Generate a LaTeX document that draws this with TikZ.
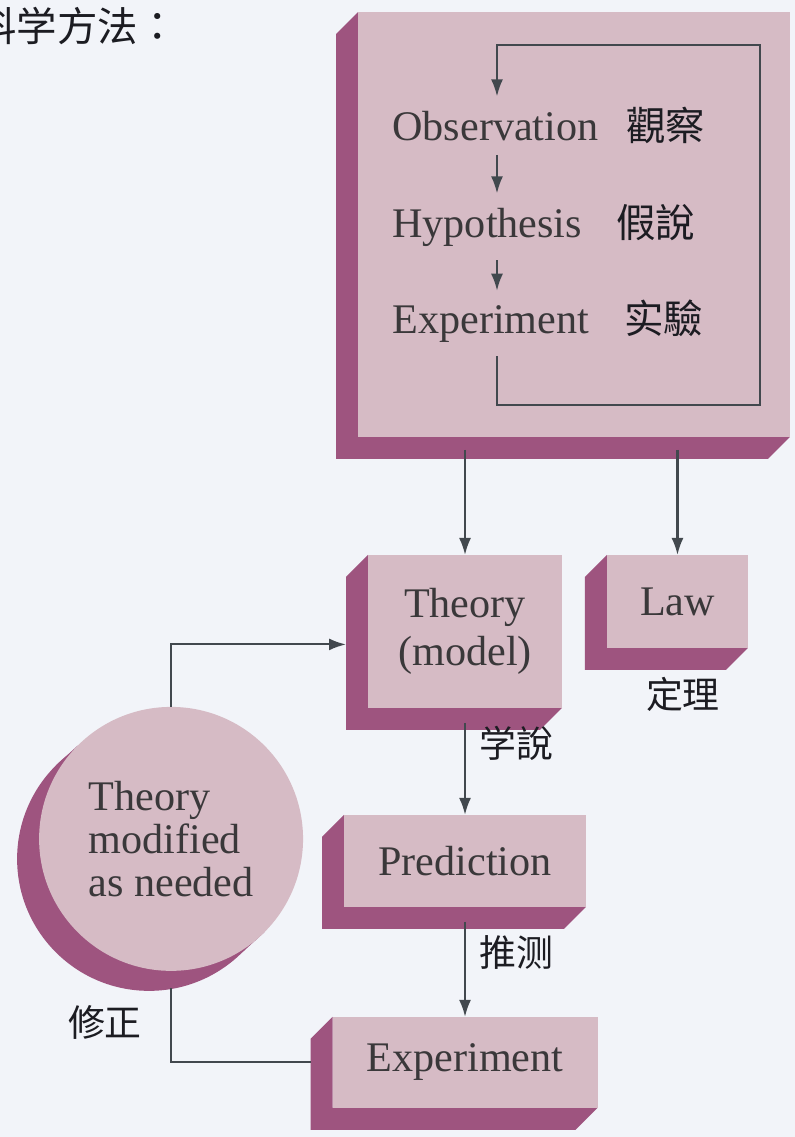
\documentclass[tikz,border=0pt]{standalone}
\usepackage{fontspec}
\setmainfont{Liberation Serif}
\newfontfamily\handzh{Noto Sans CJK TC}
\usetikzlibrary{positioning, arrows.meta, calc}

\definecolor{paper}{RGB}{242,244,249}
\definecolor{face}{RGB}{214,187,197}
\definecolor{side}{RGB}{158,84,127}
\definecolor{ink}{RGB}{66,72,78}
\definecolor{print}{RGB}{58,56,58}
\definecolor{pen}{RGB}{28,28,34}

\pgfdeclarelayer{bottom}
\pgfdeclarelayer{sides}
\pgfsetlayers{bottom,sides,main}

% side of a box, seen down and to the left
\newcommand{\boxside}[1]{%
  \begin{pgfonlayer}{sides}
    \fill[side] (#1.north west) -- ++(-22,22) |- ($(#1.south east)+(-22,22)$)
      -- (#1.south east) -- (#1.south west) -- cycle;
  \end{pgfonlayer}}
% side of the disc
\newcommand{\discside}[1]{%
  \begin{pgfonlayer}{sides}
    \fill[side] ($(#1.center)+(-22,20)$) circle[radius=2.64cm];
    \fill[side] (#1.north west) -- ++(-22,20) -- ($(#1.south east)+(-22,20)$)
      -- (#1.south east) -- cycle;
  \end{pgfonlayer}}

\begin{document}
\begin{tikzpicture}[
    x=0.02cm, y=-0.02cm,
    box/.style={rectangle, fill=face, inner sep=0pt, outer sep=0pt, text=print,
        align=center, font=\fontsize{24}{27.5}\selectfont},
    disc/.style={circle, fill=face, minimum size=5.28cm, inner sep=0pt, outer sep=0pt,
        text=print, align=left, font=\fontsize{24}{24.5}\selectfont},
    stage/.style={anchor=base west, inner sep=0.28cm, text=print, font=\fontsize{24}{24}\selectfont},
    hand/.style={text=pen, font=\handzh\fontsize{21}{21}\selectfont},
    arrow/.style={-{Latex[length=0.34cm, width=0.24cm]}, draw=ink, line width=1.2pt},
    wire/.style={draw=ink, line width=1.2pt},
]
\useasboundingbox (0,0) rectangle (795,1137);
\begin{pgfonlayer}{bottom}
    \fill[paper] (0,0) rectangle (795,1137);
\end{pgfonlayer}

%% NODES
    % title
    \node[hand, anchor=west, font=\handzh\fontsize{23}{23}\selectfont] (title) at (-30,26) {科学方法：};

    % method loop
    \node[box, minimum width=8.64cm, minimum height=8.5cm] (main) at (574,224.5) {};
    \node[stage] (obs) at (378,140) {Observation};
    \node[stage] (hyp) at (378,237) {Hypothesis};
    \node[stage] (expa) at (378,333) {Experiment};
    \node[hand, anchor=base west, font=\handzh\fontsize{22.5}{22.5}\selectfont] (obszh) at (620,140) {觀察};
    \node[hand, anchor=base west, font=\handzh\fontsize{22.5}{22.5}\selectfont] (hypzh) at (610,237) {假說};
    \node[hand, anchor=base west, font=\handzh\fontsize{22.5}{22.5}\selectfont] (expazh) at (618,333) {实驗};
    \coordinate (lx) at (497,0);
    \coordinate (loopbr) at (760,405);
    \coordinate (looptr) at (760,45);

    % results
    \node[box, minimum width=3.88cm, minimum height=3.06cm, below=2.36cm of main, xshift=-2.18cm] (theory) {Theory\\(model)};
    \node[box, minimum width=2.82cm, minimum height=1.86cm, below=2.36cm of main, xshift=2.07cm] (law) {Law};
    \node[hand, below=0.46cm of law, xshift=0.11cm] (lawzh) {定理};

    % testing
    \node[box, minimum width=4.84cm, minimum height=1.84cm, below=2.14cm of theory] (prediction) {Prediction};
    \node[box, minimum width=5.3cm, minimum height=1.82cm, below=2.2cm of prediction] (experiment) {Experiment};
    \node[disc, left=0.82cm of prediction, yshift=0.44cm] (circ) {Theory\\modified\\as needed};
    \node[hand] (fixzh) at (105,1022) {修正};

    \boxside{main}
    \boxside{theory}
    \boxside{law}
    \boxside{prediction}
    \boxside{experiment}
    \discside{circ}

%% CONNECTIONS
    % loop inside the box
    \draw[arrow] (obs.south -| lx) -- (hyp.north -| lx);
    \draw[arrow] (hyp.south -| lx) -- (expa.north -| lx);
    \draw[arrow] (expa.south -| lx) |- (loopbr) -- (looptr) -| (obs.north -| lx);

    % box -> theory, law
    \draw[arrow] ($(main.south -| theory.north)+(0,13)$) -- (theory.north);
    \draw[arrow] ($(main.south -| law.north)+(0,13)$) -- (law.north);

    % theory -> prediction -> experiment
    \draw[arrow] ($(theory.south)+(0,15)$) -- node[hand, pos=0.22, right=0.15cm] {学說} (prediction.north);
    \draw[arrow] ($(prediction.south)+(0,15)$) -- node[hand, pos=0.32, right=0.15cm] {推测} (experiment.north);

    % back round the disc
    \draw[wire] ([xshift=-0.44cm]experiment.west) -| ([yshift=-0.34cm]circ.south);
    \draw[arrow] (circ.north) |- ([xshift=-0.44cm, yshift=-0.26cm]theory.west);

\end{tikzpicture}
\end{document}
